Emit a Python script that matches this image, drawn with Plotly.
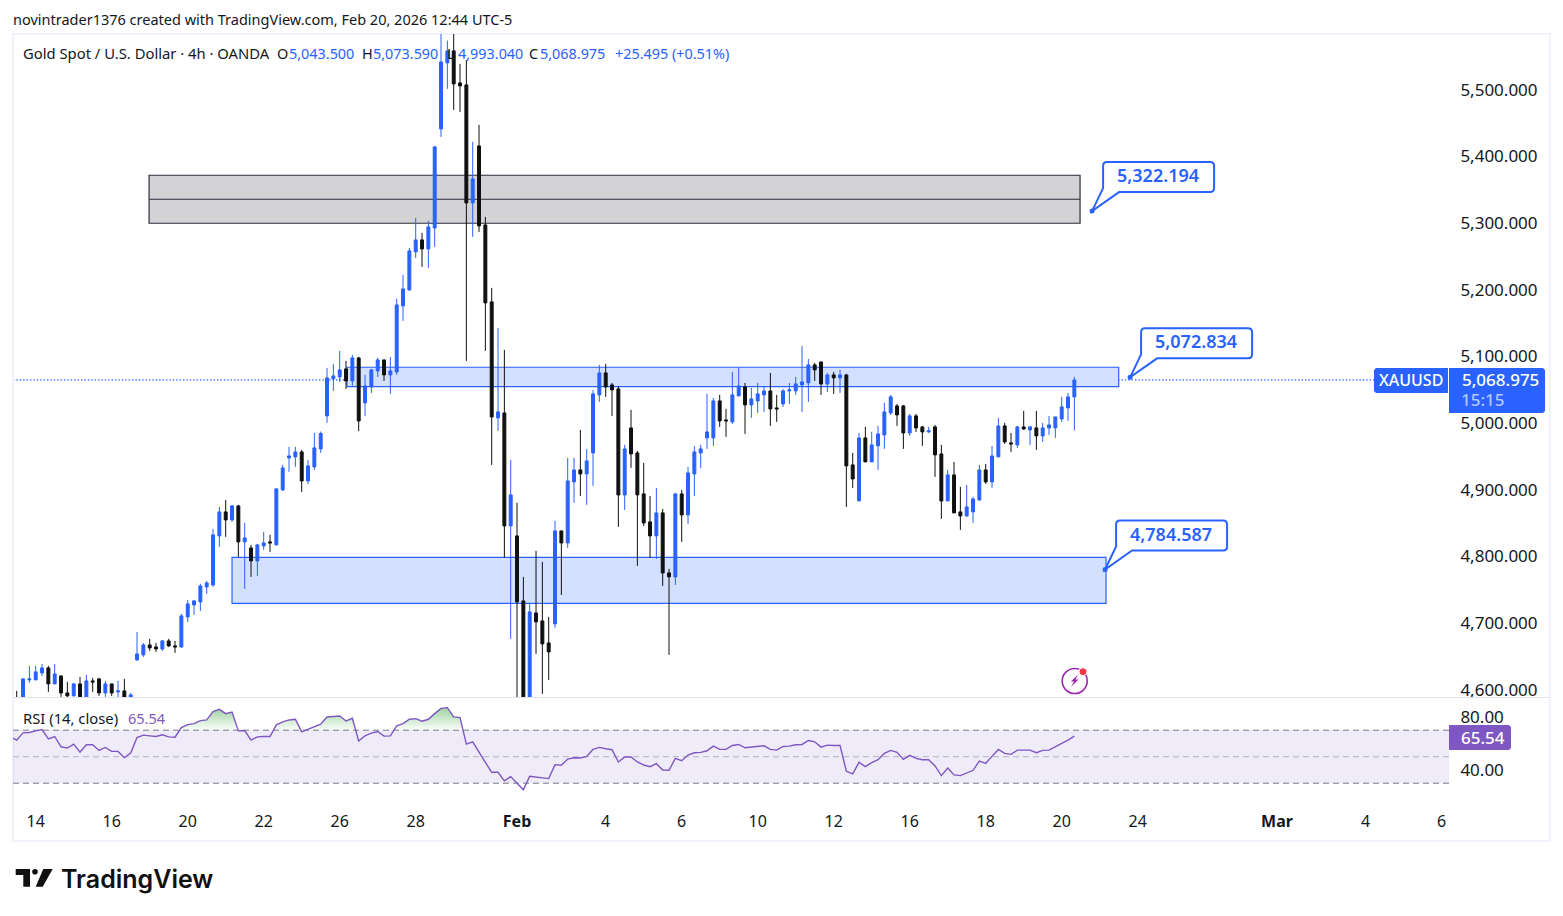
import plotly.graph_objects as go
import numpy as np

# 4h XAUUSD bars, oldest first
opens = [4591,4588,4619,4619,4629.5,4637,4613,4625,4599.5,4595,4613,4592,4617.5,4620.5,4599.5,4613,4601,4602.5,4593,4649,
 4656.5,4671.5,4668.5,4665.5,4677.5,4670,4668.5,4713.5,4731.5,4736,4758.5,4761.5,4835,4871,4859,4880,4826,4817,4797.5,4820,
 4826,4821.5,4904,4952,4953.5,4961,4917.5,4938.5,4965.5,5015,5070.5,5073.5,5085.5,5067.5,5102,5034.5,5058.5,5082.5,5099,5076.5,
 5081,5180,5204,5261,5279,5265.5,5297,5445.5,5544.5,5562.5,5514.5,5511.5,5334.5,5420,5301.5,5186,5012,5019.5,4850,4835,
 4737.5,4570,4719.5,4707.5,4674.5,4703,4842.5,4824.5,4916,4934,4928,4959.5,5046.5,5079.5,5061.5,5055.5,4896.5,4997,4959.5,4898,
 4856,4835,4869.5,4779.5,4773.5,4898,4866.5,4928,4959.5,4982,4982,5037.5,5009,5006,5045,5058.5,5031.5,5037.5,5046.5,5052.5,
 5027,5033,5052.5,5052.5,5061.5,5064.5,5091.5,5096,5063,5076.5,5072,5076.5,4941.5,4887.5,4982,4946,4970,4986.5,5019.5,5030,
 5030,4989.5,5015,4998.5,4991,4998.5,4958,4887.5,4926.5,4871,4865,4871,4889,4934,4916,4953.5,5000,4974.5,4971.5,4998.5,
 4994,4997,4985,4997,4997,5010.5,5027,5043.5]
highs = [4602.5,4621,4640,4640,4643,4640,4643,4625,4616,4614.5,4623.5,4626.5,4622,4622,4617.5,4613,4617.5,4620.5,4599.5,4691,
 4674.5,4680.5,4674.5,4679,4680.5,4677.5,4718,4739,4739,4763,4767.5,4845.5,4878.5,4889,4881.5,4881.5,4854.5,4821.5,4823,4841,
 4836.5,4907,4941.5,4968.5,4968.5,4964,4949,4989.5,4991.5,5087,5093,5112.5,5097.5,5106.5,5103.5,5076.5,5085.5,5102,5099,5103.5,
 5190.5,5226.5,5267,5312,5289.5,5307.5,5420,5600,5578,5600,5543,5549,5426,5451.5,5313.5,5207,5147,5114,4949,4884.5,
 4773.5,4734.5,4812.5,4796,4713.5,4857.5,4842.5,4952,4952,4994,4965.5,5054,5091.5,5093,5064.5,5060,4971.5,5024,4962.5,4944.5,
 4895,4907,4875.5,4785.5,4899.5,4904,4938.5,4970,4971.5,5048,5042,5046.5,5025.5,5081,5087,5064.5,5057,5064.5,5058.5,5079.5,
 5046.5,5055.5,5064.5,5073.5,5120,5100.5,5094.5,5096,5079.5,5081,5084,5078,4959.5,4989.5,4998.5,4991,5000,5034.5,5046.5,5033,
 5031.5,5018,5018,5000,4998.5,5001.5,4971.5,4934,4946,4908.5,4911.5,4893.5,4941.5,4943,4970,5012,5004.5,4989.5,5000,5022.5,
 5000,5022.5,5004.5,5015,5013.5,5043.5,5049.5,5073.59]
lows = [4568,4583,4614.5,4619,4625,4601,4613,4593.5,4593.5,4595,4588,4588,4601,4595,4593.5,4595,4593,4591,4591,4647.5,
 4653.5,4662.5,4661,4662.5,4668.5,4659.5,4667,4706,4716.5,4722.5,4748,4758.5,4818.5,4833.5,4856,4803.5,4755.5,4773.5,4775,4814,
 4811,4821.5,4902.5,4931,4938.5,4901,4913,4934,4959.5,5004.5,5052.5,5066,5055.5,5060,4992,5015,5049.5,5073.5,5067.5,5048,
 5076.5,5157.5,5202.5,5252,5238.5,5237,5268.5,5433.5,5505.5,5474,5471,5097.5,5283.5,5291,5112.5,4941.5,4992.5,4802.5,4680.5,4590,
 4520,4560,4658,4598,4619,4697,4746.5,4817,4884.5,4895,4881.5,4910,5036,5043.5,5015,4848.5,4874,4937,4790,4850,
 4802,4800.5,4760,4656.5,4761.5,4826,4853,4895,4937,4965.5,4970,4998.5,4983.5,5003,5045,4988,5012,5019.5,5021,5000,
 5006,5028.5,5033,5046.5,5021,5036,5067.5,5046.5,5051,5048,5049.5,4878.5,4907,4887.5,4946,4946,4934,4965.5,5016.5,5000,
 4965.5,4985,4991,4970,4989.5,4923.5,4860.5,4887.5,4869.5,4844,4863.5,4854.5,4887.5,4913,4907,4953.5,4973,4961,4967,4994,
 4971.5,4964,4976,4986.5,4982,5006,5007.5,4993.04]
closes = [4578,4620.5,4620.5,4631,4637,4613,4628,4599.5,4595,4613,4592,4617.5,4616,4599.5,4613,4599.5,4602.5,4593,4596.5,4658,
 4671.5,4667,4665.5,4677.5,4670,4668.5,4715,4733,4737.5,4760,4764.5,4836.5,4871,4859,4880,4826,4832,4797.5,4821.5,4824.5,
 4824.5,4905.5,4937,4955,4961,4917.5,4940,4967,4988.5,5072,5075,5084,5067.5,5102,5007.5,5060,5084,5099,5076.5,5082.5,
 5181.5,5205.5,5262.5,5279,5265.5,5298.5,5418.5,5546,5562.5,5513,5510,5334.5,5370.5,5300,5184.5,5013.5,5021,4850,4896.5,4736,
 4570,4721,4706,4673,4661,4842.5,4824.5,4917.5,4934,4928,4947.5,5048,5079.5,5058.5,5054,4896.5,4965.5,4958,4896.5,4854.5,
 4835,4869.5,4779.5,4773.5,4898,4866.5,4929.5,4961,4965.5,4991,5037.5,5007.5,5007.5,5046.5,5060,5031.5,5040.5,5048,5052.5,5025.5,
 5025.5,5052.5,5054,5063,5066,5091.5,5084,5063,5076.5,5072,5076.5,4940,4920.5,4982,4946,4971.5,4988,5021,5043.5,5016.5,
 4989.5,5015,4997,4991,4992.5,4956.5,4887.5,4926.5,4869.5,4865,4878.5,4890.5,4934,4916,4955,5000,4976,4973,4998.5,4995.5,
 4998.5,4985,4997,5001.5,5013.5,5028.5,5043.5,5068.975]

# RSI(14) per bar; the first value belongs to the bar just before the left edge
rsi_values = [65,62.5,68,68.25,69.5,70.5,63.5,65.25,57.5,56.5,59.5,53.5,59,59,54.75,57,54,54,49.25,52.75,64.5,
 66.25,65.75,65.25,66.5,65,64.75,72,74.25,75,77.25,77.75,84,85.75,82.5,83.75,69.5,69.75,62.5,65,65.25,
 65.25,74,76.25,77.75,78.25,68.75,70.75,72.75,74.5,80,80.25,80.75,77,79,61.75,65.75,67.75,69,65.5,65.75,
 73.25,75,78.25,78.75,76.75,78.25,82.5,86.5,87,80,79.5,59.5,61.25,54,45.75,38.25,38.25,31.75,35,30,
 25,35.25,34.5,34,33.5,44,43.5,48.25,49.25,49,50.25,55.5,57,56,55.25,46,49.75,49.75,46,43.75,
 42.5,44.75,40,39.75,48.75,47,51.25,53,53.25,54.5,58,55.5,55.5,58.5,59.25,56.75,57.25,57.75,58.25,55.5,
 55,57.75,58,59,59.25,62.25,61.25,57.25,58.75,58.5,58.5,39,37,45.75,42.5,45.5,47.75,52.5,54.75,53.25,
 48,51,48.75,47.75,47.75,43,35.75,41.5,36.25,35.75,37.75,39.75,46.75,45,50.25,55.5,52.5,51.75,55,55,
 55,53,54.75,55,57.75,60,62.5,65.54]

date_tick_bars = [3,15,27,39,51,63,79,93,105,117,129,141,153,165,177,199,213,225]
date_tick_text = ["14","16","20","22","26","28","<b>Feb</b>","4","6","10","12","16","18","20","24","<b>Mar</b>","4","6"]
price_ticks = [4600,4700,4800,4900,5000,5100,5200,5300,5400,5500]
rsi_ticks = [40,80]

last_price = 5068.975
last_rsi = 65.54

# Drawn zones: (left bar, right bar, low price, high price)
resistance_zone = (20.9, 167.9, 5304, 5376)
resistance_mid = 5340
pivot_zone = (52.15, 174, 5058.8, 5088)
support_zone = (34, 172, 4733.9, 4802.9)
callout_bars = [169.8, 175.8, 171.85]
callout_prices = [5322.194, 5072.834, 4784.587]
callout_labels = ["5,322.194", "5,072.834", "4,784.587"]

BLUE = "#2962ff"
BLACK = "#101010"
PURPLE = "#7e57c2"
INK = "#131722"
W, H = 1563, 916
FONT = "Noto Sans"

def px(x):
    return x / W

def py(y):
    return 1 - y / H

def poly(points):
    return "M " + " L ".join(f"{px(a):.5f} {py(b):.5f}" for a, b in points) + " Z"

PANE_L, PANE_R = 13, 1449
bars = list(range(len(closes)))
bar_step = 6.3333
x_first = 16.7
x_range = [(PANE_L - x_first) / bar_step, (PANE_R - x_first) / bar_step]

fig = go.Figure()

fig.add_trace(go.Candlestick(
    x=bars, open=opens, high=highs, low=lows, close=closes,
    whiskerwidth=0, xaxis="x", yaxis="y",
    increasing=dict(line=dict(color=BLUE, width=1), fillcolor=BLUE),
    decreasing=dict(line=dict(color=BLACK, width=1), fillcolor=BLACK),
    showlegend=False, hoverinfo="skip",
))

# Overbought shading: split the RSI line where it crosses 70
rsi_x = np.arange(-1, len(closes), dtype=float)
rsi_y = np.array(rsi_values, dtype=float)
fx, fy = [], []
for k in range(len(rsi_y)):
    if k > 0 and (rsi_y[k - 1] - 70) * (rsi_y[k] - 70) < 0:
        t = (70 - rsi_y[k - 1]) / (rsi_y[k] - rsi_y[k - 1])
        fx.append(rsi_x[k - 1] + t)
        fy.append(70.0)
    fx.append(rsi_x[k])
    fy.append(max(rsi_y[k], 70.0))

fig.add_trace(go.Scatter(x=fx, y=[70.0] * len(fx), mode="lines", line=dict(width=0),
                         xaxis="x2", yaxis="y2", showlegend=False, hoverinfo="skip"))
fig.add_trace(go.Scatter(
    x=fx, y=fy, mode="lines", line=dict(width=0), fill="tonexty",
    fillgradient=dict(type="vertical", start=70, stop=87,
                      colorscale=[[0, "rgba(76,175,80,0.02)"], [1, "rgba(76,175,80,0.55)"]]),
    xaxis="x2", yaxis="y2", showlegend=False, hoverinfo="skip",
))
fig.add_trace(go.Scatter(
    x=rsi_x, y=rsi_y, mode="lines", line=dict(color=PURPLE, width=1.4),
    xaxis="x2", yaxis="y2", showlegend=False, hoverinfo="skip",
))

shapes = []

def zone(z, fill, edge):
    shapes.append(dict(type="rect", xref="x", yref="y", x0=z[0], x1=z[1], y0=z[2], y1=z[3],
                       fillcolor=fill, line=dict(color=edge, width=1.2), layer="below"))

zone(resistance_zone, "#d3d3d6", "#2a2e39")
shapes.append(dict(type="line", xref="x", yref="y", x0=resistance_zone[0], x1=resistance_zone[1],
                   y0=resistance_mid, y1=resistance_mid, line=dict(color="#2a2e39", width=1.2), layer="below"))
zone(pivot_zone, "#d4e0ff", BLUE)
zone(support_zone, "#d4e0ff", BLUE)

# Last-price line, stops at the symbol tag
shapes.append(dict(type="line", xref="paper", yref="y", x0=px(PANE_L), x1=px(1374), y0=last_price, y1=last_price,
                   line=dict(color=BLUE, width=1.2, dash="1.4px,2px"), layer="below"))

# RSI band and its 70/50/30 guides
shapes.append(dict(type="rect", xref="x2", yref="y2", x0=x_range[0], x1=x_range[1], y0=30, y1=70,
                   fillcolor="rgba(126,87,194,0.12)", line=dict(width=0), layer="below"))
for level, color in ((70, "#787b86"), (50, "#b2b5be"), (30, "#787b86")):
    shapes.append(dict(type="line", xref="x2", yref="y2", x0=x_range[0], x1=x_range[1], y0=level, y1=level,
                       line=dict(color=color, width=1, dash="6px,4px"), layer="below"))

# Speech-bubble callouts, sized in pixels around their anchor point
def bubble_path(l=11, r=122, b=19, t=49, c=4, wedge=16):
    return (f"M 0 0 L {l} {b + 4} L {l} {t - c} Q {l} {t} {l + c} {t} L {r - c} {t} Q {r} {t} {r} {t - c} "
            f"L {r} {b + c} Q {r} {b} {r - c} {b} L {l + wedge} {b} Z")

for bx, bp in zip(callout_bars, callout_prices):
    shapes.append(dict(type="path", xref="x", yref="y", xsizemode="pixel", ysizemode="pixel",
                       xanchor=bx, yanchor=bp, path=bubble_path(), fillcolor="white",
                       line=dict(color=BLUE, width=2), layer="above"))

# Pane frame and separator
FRAME = "#f0f3fa"
shapes.append(dict(type="rect", xref="paper", yref="paper", x0=px(13), x1=px(1550), y0=py(841), y1=py(34),
                   line=dict(color=FRAME, width=2), layer="below"))
shapes.append(dict(type="line", xref="paper", yref="paper", x0=px(13), x1=px(1550), y0=py(697.5), y1=py(697.5),
                   line=dict(color="#e0e3eb", width=1.2), layer="above"))

# Axis tags on the right
shapes.append(dict(type="path", xref="paper", yref="paper", fillcolor=BLUE, line=dict(width=0), layer="above",
                   path=poly([(1376, 368), (1448, 368), (1448, 393), (1376, 393), (1374, 391), (1374, 370)])))
shapes.append(dict(type="path", xref="paper", yref="paper", fillcolor=BLUE, line=dict(width=0), layer="above",
                   path=poly([(1449, 368), (1543, 368), (1545, 370), (1545, 411), (1543, 413), (1449, 413)])))
shapes.append(dict(type="path", xref="paper", yref="paper", fillcolor=PURPLE, line=dict(width=0), layer="above",
                   path=poly([(1449, 725), (1509, 725), (1511, 727), (1511, 748), (1509, 750), (1449, 750)])))

# Alert badge in the price pane
BADGE = "#9c27b0"
shapes.append(dict(type="circle", xref="paper", yref="paper", x0=px(1062.2), x1=px(1087.2), y0=py(693.5), y1=py(668.5),
                   line=dict(color=BADGE, width=1.6), fillcolor="white", layer="above"))
shapes.append(dict(type="path", xref="paper", yref="paper", fillcolor=BADGE, line=dict(width=0), layer="above",
                   path=poly([(1078, 674.5), (1071, 681.5), (1074, 681.5), (1071, 687), (1078.5, 679.5), (1075.5, 679.5)])))
shapes.append(dict(type="circle", xref="paper", yref="paper", x0=px(1079), x1=px(1087), y0=py(675.7), y1=py(667.7),
                   line=dict(color="white", width=1), fillcolor="#f23645", layer="above"))

# Wordmark glyph
shapes.append(dict(type="path", xref="paper", yref="paper", fillcolor=BLACK, line=dict(width=0), layer="above",
                   path=poly([(15.7, 869), (30, 869), (30, 886.7), (23.3, 886.7), (23.3, 875), (15.7, 875)])))
shapes.append(dict(type="circle", xref="paper", yref="paper", x0=px(32.2), x1=px(37.8), y0=py(874.6), y1=py(869),
                   fillcolor=BLACK, line=dict(width=0), layer="above"))
shapes.append(dict(type="path", xref="paper", yref="paper", fillcolor=BLACK, line=dict(width=0), layer="above",
                   path=poly([(43.3, 869), (52.7, 869), (42.7, 886.7), (35.7, 886.7)])))

annotations = []

def label(x, y, text, color=INK, size=14, anchor="left", weight=None, family=FONT):
    annotations.append(dict(xref="paper", yref="paper", x=px(x), y=py(y), text=text, showarrow=False,
                            xanchor=anchor, yanchor="middle", align=anchor,
                            font=dict(family=family, size=size, color=color, weight=weight),
                            borderpad=0, borderwidth=0))

label(13, 19, "novintrader1376 created with TradingView.com, Feb 20, 2026 12:44 UTC-5", size=14.5)
label(23, 53.5, "Gold Spot / U.S. Dollar · 4h · OANDA", size=14.8)
label(277, 53.5, "O", size=14.5)
label(288.5, 53.5, "5,043.500", BLUE, size=14.4)
label(362, 53.5, "H", size=14.5)
label(373, 53.5, "5,073.590", BLUE, size=14.4)
label(447, 53.5, "L", size=14.5)
label(457.5, 53.5, "4,993.040", BLUE, size=14.4)
label(529, 53.5, "C", size=14.5)
label(540, 53.5, "5,068.975", BLUE, size=14.4)
label(615, 53.5, "+25.495 (+0.51%)", BLUE, size=14.4)

label(23, 717.5, "RSI (14, close)", size=14.8)
label(127.5, 717.5, "65.54", PURPLE, size=14.5)

label(1411, 380, "XAUUSD", "white", size=16, anchor="center", weight=500)
label(1500, 379.5, "5,068.975", "white", size=17, anchor="center", weight=500)
label(1461, 399.5, "15:15", "#b4c6ff", size=17, weight=500)
label(1483, 737, "65.54", "white", size=17, anchor="center", weight=500)

label(61, 878.5, "TradingView", BLACK, size=25, weight=600, family="Inter")

for bx, bp, text in zip(callout_bars, callout_prices, callout_labels):
    annotations.append(dict(xref="x", yref="y", x=bx, y=bp, xshift=66, yshift=36, text=text, showarrow=False,
                            font=dict(family=FONT, size=18, color=BLUE, weight=600)))

tick_font = dict(family=FONT, size=17, color=INK)
date_font = dict(family=FONT, size=16, color=INK)

fig.add_trace(go.Scatter(
    x=callout_bars, y=callout_prices, mode="markers",
    marker=dict(color=BLUE, size=5), xaxis="x", yaxis="y",
    showlegend=False, hoverinfo="skip",
))

fig.update_layout(
    template="none",
    width=W, height=H, autosize=False,
    margin=dict(l=0, r=0, t=0, b=0, pad=0),
    paper_bgcolor="white", plot_bgcolor="rgba(0,0,0,0)",
    showlegend=False, shapes=shapes, annotations=annotations, boxgap=0.34,
    xaxis=dict(domain=[px(PANE_L), px(PANE_R)], range=x_range, anchor="y", showgrid=False, zeroline=False,
               showticklabels=False, ticks="", rangeslider=dict(visible=False), fixedrange=True, automargin=False),
    yaxis=dict(domain=[py(697.5), py(34)], range=[4592.6, 5587.85], side="right", anchor="x",
               tickvals=price_ticks, tickformat=",.3f", showgrid=False, zeroline=False, automargin=False,
               ticklabelshift=-3,
               ticks="outside", ticklen=7, tickcolor="rgba(0,0,0,0)", tickfont=tick_font, fixedrange=True),
    xaxis2=dict(domain=[px(PANE_L), px(PANE_R)], range=x_range, anchor="y2", showgrid=False, zeroline=False,
                tickmode="array", tickvals=date_tick_bars, ticktext=date_tick_text, tickangle=0, automargin=False,
                ticks="outside", ticklen=1, tickcolor="rgba(0,0,0,0)", tickfont=date_font, fixedrange=True),
    yaxis2=dict(domain=[py(806), py(698)], range=[12.8, 94.3], side="right", anchor="x2",
                tickvals=rsi_ticks, tickformat=".2f", showgrid=False, zeroline=False, automargin=False,
                ticks="outside", ticklen=7, tickcolor="rgba(0,0,0,0)", tickfont=tick_font, fixedrange=True),
)

fig.write_html("out.html", config=dict(displayModeBar=False))
